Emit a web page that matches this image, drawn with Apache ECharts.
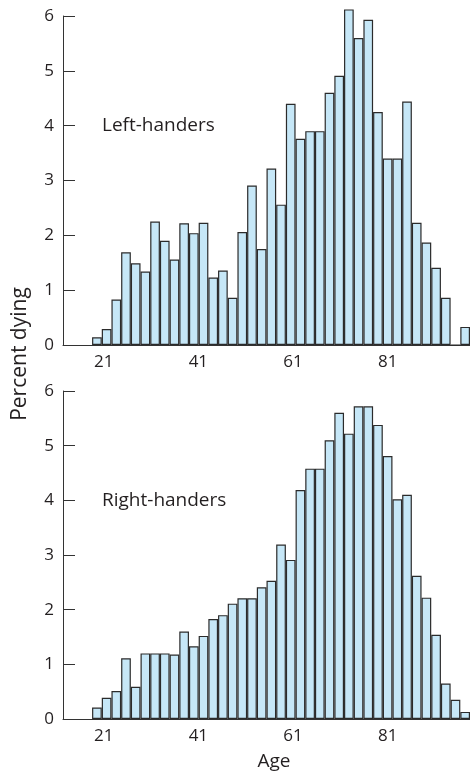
<!DOCTYPE html>
<html>
<head>
<meta charset="utf-8">
<script src="https://cdn.jsdelivr.net/npm/echarts@6/dist/echarts.min.js"></script>
<style>
  html, body { margin: 0; padding: 0; background: #fff; }
  #chart { width: 470px; height: 774px; }
</style>
</head>
<body>
<div id="chart"></div>
<script>
// age bins, 2 years each (start of bin)
var ageBins = ['18', '20', '22', '24', '26', '28', '30', '32', '34', '36', '38', '40', '42',
  '44', '46', '48', '50', '52', '54', '56', '58', '60', '62', '64', '66', '68', '70', '72',
  '74', '76', '78', '80', '82', '84', '86', '88', '90', '92', '94'];

// percent dying per bin
var leftHanders = [0.14, 0.29, 0.83, 1.69, 1.49, 1.34, 2.25, 1.90, 1.56, 2.22, 2.04, 2.23, 1.23,
  1.36, 0.86, 2.06, 2.91, 1.75, 3.22, 2.56, 4.40, 3.76, 3.90, 3.90, 4.60, 4.91, 6.12, 5.60,
  5.93, 4.25, 3.40, 3.40, 4.44, 2.23, 1.87, 1.41, 0.86, 0, 0.33];

var rightHanders = [0.21, 0.39, 0.51, 1.11, 0.59, 1.20, 1.20, 1.20, 1.18, 1.60, 1.33, 1.52, 1.83,
  1.90, 2.11, 2.21, 2.21, 2.41, 2.53, 3.19, 2.91, 4.19, 4.58, 4.58, 5.10, 5.60, 5.22, 5.72,
  5.72, 5.38, 4.81, 4.02, 4.10, 2.62, 2.22, 1.54, 0.65, 0.35, 0.13];

var ageTicks = [21, 41, 61, 81];
var percentTicks = [0, 1, 2, 3, 4, 5, 6];

var textColor = '#231f20';
var lineColor = '#333333';
var barFill = '#c6e7f7';
var fontFamily = '"Open Sans", "Noto Sans", sans-serif';

// empty space before the first bin (3 blank bins)
var pad = ['', '', ''];
var cats = pad.concat(ageBins);

function padData(arr) {
  return [null, null, null].concat(arr);
}

function binAxis(gridIndex) {
  return {
    type: 'category',
    gridIndex: gridIndex,
    data: cats,
    position: 'bottom',
    boundaryGap: true,
    axisLine: { show: true, onZero: false, lineStyle: { color: lineColor, width: 1 } },
    axisTick: { show: false },
    axisLabel: { show: false },
    splitLine: { show: false }
  };
}

// label axis for the age ticks, laid over the bins
function ageAxis(gridIndex) {
  return {
    type: 'value',
    gridIndex: gridIndex,
    position: 'bottom',
    min: 12.4,
    max: 98.4,
    axisLine: { show: false },
    axisTick: { show: false },
    splitLine: { show: false },
    axisLabel: {
      customValues: ageTicks,
      margin: 9,
      color: textColor,
      fontSize: 17,
      fontFamily: fontFamily
    }
  };
}

function pctAxis(gridIndex) {
  return {
    type: 'value',
    gridIndex: gridIndex,
    min: 0,
    max: 6,
    interval: 1,
    axisLine: { show: true, lineStyle: { color: lineColor, width: 1 } },
    axisTick: { show: true, inside: true, length: 12, lineStyle: { color: lineColor } },
    axisLabel: {
      margin: 9,
      color: textColor,
      fontSize: 17,
      fontFamily: fontFamily,
      customValues: percentTicks
    },
    splitLine: { show: false }
  };
}

function barSeries(name, data, axisBase, yIndex) {
  return {
    name: name,
    type: 'bar',
    xAxisIndex: axisBase,
    yAxisIndex: yIndex,
    data: padData(data),
    barWidth: '100%',
    barCategoryGap: '0%',
    clip: false,
    itemStyle: { color: barFill, borderColor: '#2b2b2b', borderWidth: 1.2 },
    silent: true
  };
}

var chart = echarts.init(document.getElementById('chart'));
chart.setOption({
  animation: false,
  grid: [
    { left: 63, right: 0, top: 16, height: 329 },
    { left: 63, right: 0, top: 391, height: 328 }
  ],
  xAxis: [binAxis(0), ageAxis(0), binAxis(1), ageAxis(1)],
  yAxis: [pctAxis(0), pctAxis(1)],
  series: [
    barSeries('Left-handers', leftHanders, 0, 0),
    barSeries('Right-handers', rightHanders, 2, 1)
  ],
  graphic: [
    {
      type: 'text', x: 102, y: 126,
      style: { text: 'Left-handers', fill: textColor, font: '19px ' + fontFamily, textAlign: 'left', textVerticalAlign: 'middle' }
    },
    {
      type: 'text', x: 102, y: 501,
      style: { text: 'Right-handers', fill: textColor, font: '19px ' + fontFamily, textAlign: 'left', textVerticalAlign: 'middle' }
    },
    {
      type: 'text', x: 274, y: 762,
      style: { text: 'Age', fill: textColor, font: '19px ' + fontFamily, textAlign: 'center', textVerticalAlign: 'middle' }
    },
    {
      type: 'text', x: 20, y: 354, rotation: Math.PI / 2,
      style: { text: 'Percent dying', fill: textColor, font: '21px ' + fontFamily, textAlign: 'center', textVerticalAlign: 'middle' }
    }
  ]
});
</script>
</body>
</html>
